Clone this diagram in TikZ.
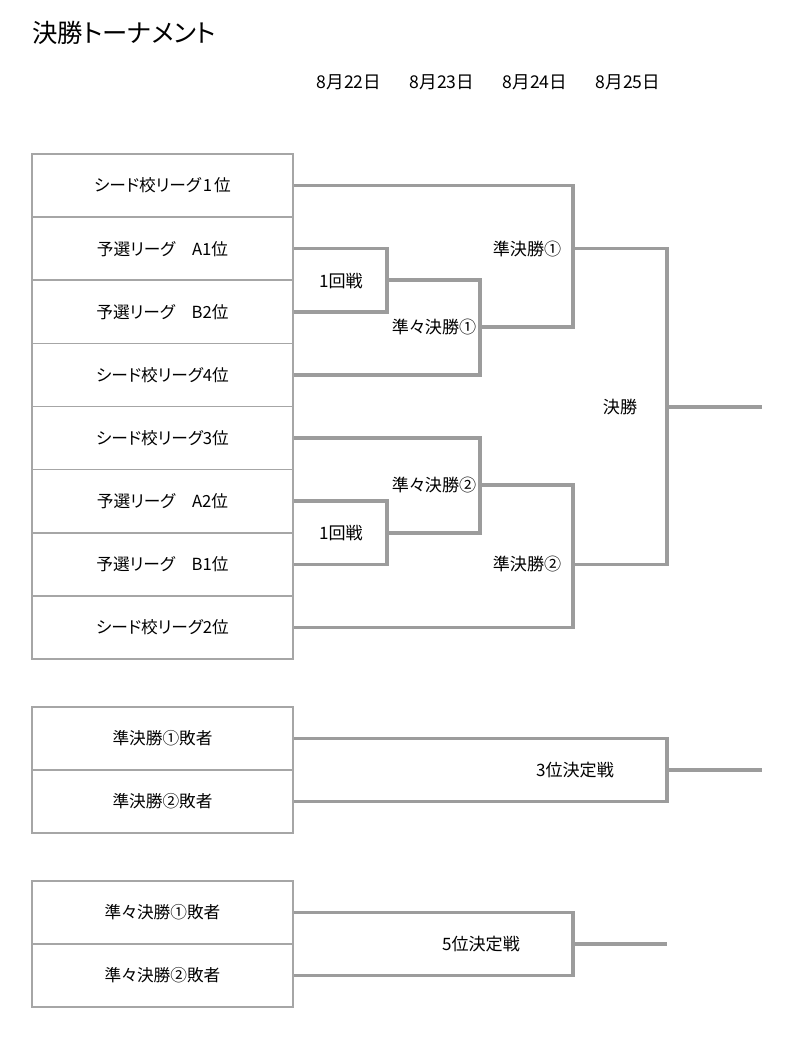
\documentclass[tikz,border=0pt]{standalone}
\usepackage{fontspec}
\setmainfont{Noto Sans CJK JP}[RawFeature=+palt]
\definecolor{boxgray}{HTML}{A6A6A6}
\definecolor{linegray}{HTML}{9C9C9C}
\begin{document}
\begin{tikzpicture}[x=0.75pt,y=-0.75pt,
  box/.style={draw=boxgray,line width=1.2pt,minimum width=195.75pt,minimum height=47.34pt,inner sep=0pt,font=\fontsize{12.5}{14}\selectfont},
  brk/.style={draw=linegray,line width=2.6pt},
  lbl/.style={inner sep=0pt,font=\fontsize{12.8}{14}\selectfont},
  datel/.style={inner sep=0pt,font=\fontsize{13.2}{15}\selectfont}]
\useasboundingbox[fill=white] (0,0) rectangle (800,1044);
\node[inner sep=0pt,anchor=west,font=\fontsize{19}{22}\selectfont] (title) at (32,33) {決勝トーナメント};
\node[datel] (d1) at (349,82) {8月22日};
\node[datel] (d2) at (442,82) {8月23日};
\node[datel] (d3) at (535,82) {8月24日};
\node[datel] (d4) at (628,82) {8月25日};
% main boxes
\node[box] (r1) at (162.5,185.6) {シード校リーグ\hspace{0.12em}1\hspace{0.12em}位};
\node[box] (r2) at (162.5,248.7) {予選リーグ\quad A1位};
\node[box] (r3) at (162.5,311.8) {予選リーグ\quad B2位};
\node[box] (r4) at (162.5,374.9) {シード校リーグ4位};
\node[box] (r5) at (162.5,438.1) {シード校リーグ3位};
\node[box] (r6) at (162.5,501.2) {予選リーグ\quad A2位};
\node[box] (r7) at (162.5,564.3) {予選リーグ\quad B1位};
\node[box] (r8) at (162.5,627.4) {シード校リーグ2位};
% junctions
\coordinate (m1) at (387,280);
\coordinate (q1) at (480,327);
\coordinate (s1) at (573,248.7);
\coordinate (m2) at (387,533);
\coordinate (q2) at (480,485);
\coordinate (s2) at (573,564.3);
\coordinate (f) at (667,407);
\coordinate (fe) at (762,407);
% first round
\draw[brk] (r2.east) -| (m1) |- (r3.east);
\draw[brk] (r6.east) -| (m2) |- (r7.east);
% quarterfinals
\draw[brk] (m1) -| (q1) |- (r4.east);
\draw[brk] (r5.east) -| (q2) |- (m2);
% semifinals
\draw[brk] (r1.east) -| (s1) |- (q1);
\draw[brk] (q2) -| (s2) |- (r8.east);
% final
\draw[brk] (s1) -| (f) |- (s2);
\draw[brk] (f) -- (fe);
% labels
\node[lbl] (l1) at (341,281) {1回戦};
\node[lbl] (l2) at (434,327) {準々決勝①};
\node[lbl] (l3) at (527,249) {準決勝①};
\node[lbl] (l4) at (620,407) {決勝};
\node[lbl] (l5) at (434,485) {準々決勝②};
\node[lbl] (l6) at (341,533) {1回戦};
\node[lbl] (l7) at (527,564) {準決勝②};
% third place
\node[box] (t1) at (162.5,738.5) {準決勝①敗者};
\node[box] (t2) at (162.5,801.5) {準決勝②敗者};
\coordinate (tj) at (667,770);
\coordinate (te) at (762,770);
\draw[brk] (t1.east) -| (tj) |- (t2.east);
\draw[brk] (tj) -- (te);
\node[lbl] (tl) at (575,770) {3位決定戦};
% fifth place
\node[box] (v1) at (162.5,912.5) {準々決勝①敗者};
\node[box] (v2) at (162.5,975.5) {準々決勝②敗者};
\coordinate (vj) at (573,944);
\coordinate (ve) at (667,944);
\draw[brk] (v1.east) -| (vj) |- (v2.east);
\draw[brk] (vj) -- (ve);
\node[lbl] (vl) at (481,944) {5位決定戦};
\end{tikzpicture}
\end{document}
